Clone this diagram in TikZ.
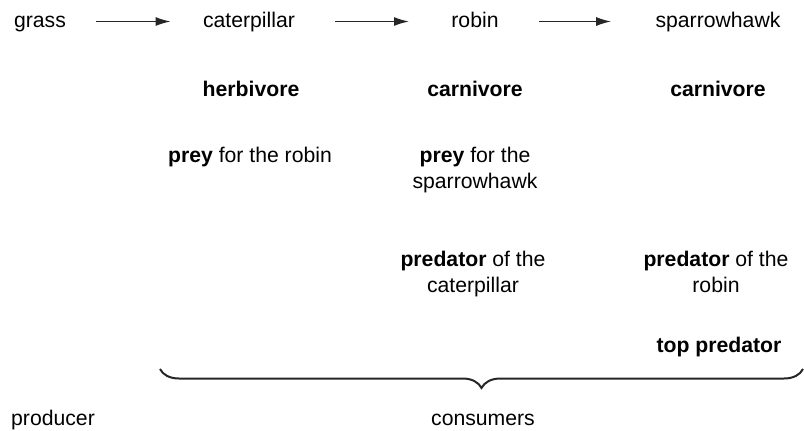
\documentclass[tikz,border=0pt]{standalone}
\usepackage{fontspec}
\setmainfont{Liberation Sans}
\usetikzlibrary{arrows.meta,decorations.pathreplacing}
\tikzset{
    chain/.style={font={\fontsize{10.6}{13}\selectfont}, anchor=base, inner sep=0pt, text height=8pt, text depth=2.5pt},
    role/.style={font={\fontsize{10.6}{13}\selectfont\bfseries}, anchor=base, inner sep=0pt},
    note/.style={font={\fontsize{10.6}{13}\selectfont}, anchor=base, inner sep=0pt, align=center},
    feeds/.style={-{Latex[length=7.5pt, width=4.5pt]}, line width=0.75pt, black!85}
}
\begin{document}
\begin{tikzpicture}[x=0.5pt, y=-0.5pt]
    \useasboundingbox (0, 0) rectangle (804, 430);
    % food chain
    \node[chain] (grass) at (40, 27) {grass};
    \node[chain] (cat) at (249, 27) {caterpillar};
    \node[chain] (robin) at (475, 27) {robin};
    \node[chain] (hawk) at (718, 27) {sparrowhawk};
    \draw[feeds, shorten <=15pt, shorten >=16pt] (grass) -- (cat);
    \draw[feeds, shorten <=20pt, shorten >=21pt] (cat) -- (robin);
    \draw[feeds, shorten <=20pt, shorten >=22pt] (robin) -- (hawk);
    % row 2
    \node[role] (herb) at (251, 96) {herbivore};
    \node[role] (carn1) at (475, 96) {carnivore};
    \node[role] (carn2) at (718, 96) {carnivore};
    % row 3 (base is the last line)
    \node[note] (prey1) at (250, 162) {\textbf{prey} for the robin};
    \node[note] (prey2) at (475, 188) {\textbf{prey} for the\\sparrowhawk};
    % row 4
    \node[note] (pred1) at (473, 292) {\textbf{predator} of the\\caterpillar};
    \node[note] (pred2) at (716, 292) {\textbf{predator} of the\\robin};
    \node[role] (top) at (719, 352) {top predator};
    % brace
    \coordinate (bl) at (160, 369);
    \coordinate (br) at (803, 369);
    \draw[decorate, decoration={brace, mirror, amplitude=9.5pt}, line width=1pt, black!85] (bl) -- (br);
    \node[note] (prod) at (53, 425) {producer};
    \node[note] (cons) at (483, 425) {consumers};
\end{tikzpicture}
\end{document}
